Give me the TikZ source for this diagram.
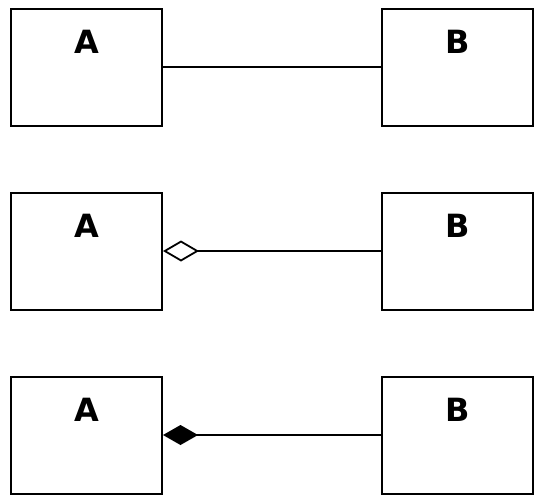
\documentclass[tikz,border=0pt]{standalone}
\usepackage{fontspec}
\setmainfont{DejaVu Sans}
\usetikzlibrary{arrows.meta}
\begin{document}
\begin{tikzpicture}[x=1pt,y=-1pt,
  cls/.style={draw, line width=2pt, minimum width=151pt, minimum height=117pt, inner sep=0pt},
  lbl/.style={font=\fontsize{32}{32}\selectfont\bfseries, anchor=base},
  conn/.style={line width=2pt},
  agg/.style={conn, {Diamond[open,length=36pt,width=21pt,line width=1.8pt]}-},
  comp/.style={conn, {Diamond[length=35pt,width=20pt]}-}]
\useasboundingbox (0,0) rectangle (545,500);
\foreach \r/\y in {1/67.5, 2/251, 3/435}{
  \node[cls] (A\r) at (86.5,\y) {};
  \node[cls] (B\r) at (457.5,\y) {};
  \node[lbl] (lA\r) at ([yshift=-46pt]A\r.north) {A};
  \node[lbl] (lB\r) at ([yshift=-46pt]B\r.north) {B};
}
\draw[conn] (A1.east) -- (B1.west);
\draw[agg] (A2.east) -- (B2.west);
\draw[comp] (A3.east) -- (B3.west);
\end{tikzpicture}
\end{document}
